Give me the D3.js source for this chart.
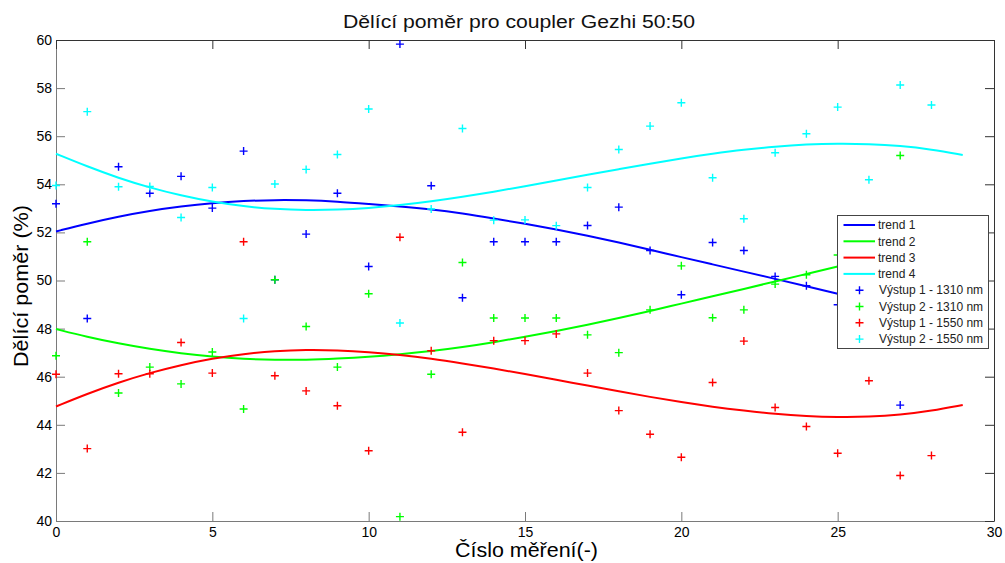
<!DOCTYPE html>
<html>
<head>
<meta charset="utf-8">
<script src="https://cdn.jsdelivr.net/npm/d3@7"></script>
<style>
  body { margin: 0; background: #fff; }
  svg { display: block; font-family: "Liberation Sans", Arial, sans-serif; }
  .trend { fill: none; stroke-width: 2; }
  .mark { fill: none; stroke-width: 1.4; }
</style>
</head>
<body>
<svg id="svg" width="1005" height="563"></svg>
<script>
// measurement number (x) for the data points
const measurement = [0, 1, 2, 3, 4, 5, 6, 7, 8, 9, 10, 11, 12, 13, 14, 15, 16, 17, 18, 19, 20, 21, 22, 23, 24, 25, 26, 27, 28];

// ratios (null = hidden under the legend)
const vystup1_1310 = [53.19, 48.42, 54.73, 53.63, 54.33, 53.01, 55.38, 50.03, 51.93, 53.63, 50.58, 59.83, 53.94, 49.28, 51.61, 51.61, 51.61, 52.29, 53.05, 51.25, 49.41, 51.58, 51.25, 50.17, 49.78, 48.99, null, 44.82, null];
const vystup2_1310 = [46.87, 51.61, 45.32, 46.40, 45.70, 47.03, 44.66, 50.03, 48.09, 46.40, 49.45, 40.18, 46.10, 50.75, 48.44, 48.44, 48.44, 47.74, 47.00, 48.78, 50.61, 48.45, 48.78, 49.85, 50.24, 51.06, null, 55.20, null];
const vystup1_1550 = [46.10, 43.01, 46.12, 46.12, 47.42, 46.15, 51.61, 46.04, 45.41, 44.79, 42.92, 51.80, 47.08, 43.69, 47.50, 47.50, 47.78, 46.15, 44.59, 43.61, 42.65, 45.76, 47.48, 44.72, 43.93, 42.82, 45.83, 41.89, 42.72];
const vystup2_1550 = [53.95, 57.02, 53.90, 53.91, 52.62, 53.87, 48.42, 54.01, 54.62, 55.24, 57.13, 48.23, 52.97, 56.32, 52.51, 52.52, 52.28, 53.87, 55.45, 56.42, 57.39, 54.27, 52.57, 55.31, 56.10, 57.21, 54.19, 58.13, 57.30];

// trend curves, sampled at x = 0, 1, 2, ...
const trend1 = [52.04, 52.37, 52.66, 52.90, 53.08, 53.22, 53.31, 53.35, 53.34, 53.28, 53.18, 53.08, 52.96, 52.79, 52.58, 52.36, 52.12, 51.86, 51.58, 51.28, 50.97, 50.67, 50.37, 50.07, 49.76, 49.45];
const trend2 = [47.98, 47.65, 47.38, 47.15, 46.97, 46.83, 46.74, 46.70, 46.70, 46.75, 46.82, 46.93, 47.06, 47.23, 47.43, 47.66, 47.90, 48.16, 48.44, 48.73, 49.04, 49.34, 49.65, 49.96, 50.27, 50.58];
const trend3 = [44.76, 45.29, 45.76, 46.16, 46.49, 46.76, 46.95, 47.07, 47.12, 47.10, 47.03, 46.91, 46.75, 46.55, 46.34, 46.11, 45.87, 45.63, 45.39, 45.16, 44.94, 44.75, 44.59, 44.45, 44.36, 44.32, 44.33, 44.41, 44.58, 44.82];
const trend4 = [55.27, 54.74, 54.26, 53.86, 53.53, 53.27, 53.08, 52.97, 52.92, 52.94, 53.01, 53.13, 53.29, 53.48, 53.69, 53.92, 54.16, 54.40, 54.63, 54.86, 55.08, 55.27, 55.44, 55.57, 55.66, 55.70, 55.68, 55.60, 55.45, 55.22];

const trendNames = ["trend 1", "trend 2", "trend 3", "trend 4"];
const pointNames = ["Výstup 1 - 1310 nm", "Výstup 2 - 1310 nm", "Výstup 1 - 1550 nm", "Výstup 2 - 1550 nm"];
const colors = ["#0000ff", "#00ff00", "#ff0000", "#00ffff"];

const xTicks = [0, 5, 10, 15, 20, 25, 30];
const yTicks = [40, 42, 44, 46, 48, 50, 52, 54, 56, 58, 60];

const svg = d3.select("svg#svg");

const plot = { left: 56, right: 994, top: 40, bottom: 521 };

const x = d3.scaleLinear().domain([0, 30]).range([plot.left, plot.right]);
const y = d3.scaleLinear().domain([40, 60]).range([plot.bottom, plot.top]);

var translate = function(a, b) {
  return "translate(" + a + ", " + b + ")";
}

// axes, MATLAB style: ticks inside the box
var drawAxes = function() {
  let left = svg.append("g")
    .attr("transform", translate(plot.left, 0))
    .attr("color", "#7a7a7a")
    .call(d3.axisLeft(y).tickValues(yTicks).tickSize(-9).tickSizeOuter(0).tickPadding(4));

  let bottom = svg.append("g")
    .attr("transform", translate(0, plot.bottom))
    .attr("color", "#7a7a7a")
    .call(d3.axisBottom(x).tickValues(xTicks).tickSize(-9).tickSizeOuter(0).tickPadding(6));

  svg.append("g")
    .attr("transform", translate(0, plot.top))
    .attr("color", "#333")
    .call(d3.axisTop(x).tickValues(xTicks).tickSize(-9).tickSizeOuter(0).tickFormat(""));

  svg.append("g")
    .attr("transform", translate(plot.right, 0))
    .attr("color", "#333")
    .call(d3.axisRight(y).tickValues(yTicks).tickSize(-9).tickSizeOuter(0).tickFormat(""));

  [left, bottom].forEach(function(a) {
    a.attr("font-size", 14).attr("font-family", null);
    a.selectAll("text").attr("fill", "#000");
  });
}

var drawTrends = function() {
  let line = d3.line()
    .x((d, i) => x(i))
    .y(d => y(d))
    .curve(d3.curveBasis);

  [trend1, trend2, trend3, trend4].forEach(function(values, k) {
    svg.append("path")
      .datum(values)
      .attr("class", "trend")
      .attr("stroke", colors[k])
      .attr("d", line);
  });
}

var plus = "M-4,0H4M0,-4V4";

var drawPoints = function() {
  [vystup1_1310, vystup2_1310, vystup1_1550, vystup2_1550].forEach(function(values, k) {
    let pts = measurement
      .map((m, i) => ({ m: m, v: values[i] }))
      .filter(d => d.v !== null);

    svg.append("g").selectAll("path")
      .data(pts)
      .enter()
      .append("path")
      .attr("class", "mark")
      .attr("stroke", colors[k])
      .attr("transform", d => translate(x(d.m), y(d.v)))
      .attr("d", plus);
  });
}

var drawLegend = function() {
  let legend = svg.append("g").attr("transform", translate(837.5, 215.5));

  legend.append("rect")
    .attr("width", 151)
    .attr("height", 133)
    .attr("fill", "#fff")
    .attr("stroke", "#444");

  let rows = trendNames.concat(pointNames);

  rows.forEach(function(name, i) {
    let ry = 9.5 + i * 16.3;
    let c = colors[i % 4];

    if (i < 4) {
      legend.append("line")
        .attr("x1", 6).attr("x2", 37.5)
        .attr("y1", ry).attr("y2", ry)
        .attr("stroke", c)
        .attr("stroke-width", 2);
    } else {
      legend.append("path")
        .attr("class", "mark")
        .attr("stroke", c)
        .attr("transform", translate(22, ry))
        .attr("d", plus);
    }

    legend.append("text")
      .attr("x", i < 4 ? 40.5 : 41.5)
      .attr("y", ry + 4.2)
      .attr("font-size", 12)
      .attr("fill", "#222")
      .text(name);
  });
}

var drawLabels = function() {
  svg.append("text")
    .attr("x", 343)
    .attr("y", 27.5)
    .attr("font-size", 18)
    .attr("textLength", 352)
    .attr("lengthAdjust", "spacingAndGlyphs")
    .attr("fill", "#111")
    .text("Dělící poměr pro coupler Gezhi 50:50");

  svg.append("text")
    .attr("x", 455)
    .attr("y", 556.5)
    .attr("font-size", 20)
    .attr("textLength", 143)
    .attr("lengthAdjust", "spacingAndGlyphs")
    .attr("fill", "#000")
    .text("Číslo měření(-)");

  svg.append("text")
    .attr("transform", translate(28, 367) + " rotate(-90)")
    .attr("font-size", 20)
    .attr("textLength", 162)
    .attr("lengthAdjust", "spacingAndGlyphs")
    .attr("fill", "#000")
    .text("Dělící poměr (%)");
}

drawAxes();
drawTrends();
drawPoints();
drawLegend();
drawLabels();
</script>
</body>
</html>
